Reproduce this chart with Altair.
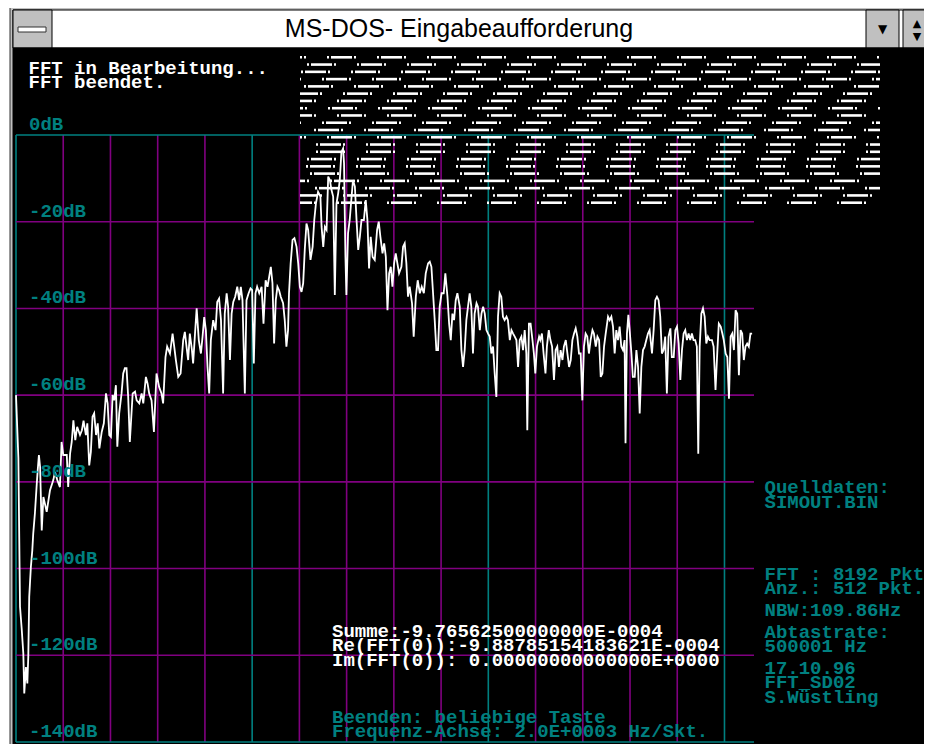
import altair as alt
import pandas as pd

# ---------------- data ----------------
freq_khz = [
    0.00, 0.10, 0.17, 0.24, 0.31, 0.35, 0.42, 0.48, 0.52, 0.56, 0.63, 0.69, 0.73, 0.80, 0.88, 0.92, 0.97,
    1.02, 1.09, 1.16, 1.30, 1.44, 1.58, 1.65, 1.75, 1.86, 1.93, 2.00, 2.15, 2.21, 2.29, 2.36, 2.43, 2.51,
    2.59, 2.71, 2.79, 2.86, 2.96, 3.02, 3.10, 3.17, 3.24, 3.31, 3.39, 3.46, 3.53, 3.63, 3.72, 3.81, 3.88,
    3.95, 4.02, 4.09, 4.16, 4.23, 4.29, 4.37, 4.47,
    4.54, 4.61, 4.68, 4.75, 4.82, 4.94, 5.04, 5.11, 5.22, 5.32, 5.39, 5.50, 5.57, 5.64, 5.74, 5.84, 5.95,
    6.06, 6.16, 6.23, 6.33, 6.40, 6.52, 6.63, 6.70, 6.77, 6.87, 6.97, 7.08, 7.15, 7.22, 7.29, 7.36, 7.45,
    7.50, 7.58, 7.65, 7.74, 7.83, 7.90, 7.97, 8.04, 8.11, 8.18, 8.25, 8.35, 8.45, 8.52, 8.60, 8.68, 8.77,
    8.84, 8.92, 8.98, 9.06, 9.13, 9.20, 9.28, 9.37, 9.45, 9.52, 9.59, 9.69, 9.76, 9.85, 9.93, 10.00, 10.07,
    10.14, 10.21, 10.30, 10.40, 10.48, 10.57, 10.65, 10.72, 10.79, 10.86, 10.93, 11.00, 11.07, 11.14, 11.21,
    11.31, 11.38, 11.45, 11.52, 11.56, 11.63, 11.71, 11.79, 11.88, 11.95, 12.02, 12.09, 12.16, 12.23, 12.30,
    12.37, 12.47, 12.56, 12.63, 12.70,
    12.79, 12.89, 12.94, 13.01, 13.08, 13.15, 13.22, 13.29, 13.36, 13.43, 13.50, 13.57, 13.64, 13.71, 13.78,
    13.85, 13.89, 13.95, 13.99, 14.06, 14.13, 14.21, 14.27, 14.35, 14.42, 14.49, 14.56, 14.63, 14.73, 14.81,
    14.88, 14.95, 15.02, 15.10, 15.19, 15.29, 15.36, 15.43, 15.52, 15.59, 15.66, 15.73, 15.80, 15.87, 15.94,
    16.01, 16.08, 16.15, 16.22, 16.32, 16.39, 16.46, 16.53, 16.60, 16.67, 16.77, 16.84, 16.93, 17.01, 17.10,
    17.18, 17.27, 17.35, 17.45, 17.52, 17.59, 17.66, 17.73, 17.80, 17.87, 17.94, 18.02, 18.11, 18.18, 18.27,
    18.34, 18.41, 18.48, 18.55, 18.62, 18.69, 18.79, 18.86, 18.93, 19.00, 19.07, 19.14, 19.21, 19.28, 19.35,
    19.42, 19.50, 19.56, 19.64, 19.71, 19.78, 19.85, 19.92, 19.99, 20.06, 20.13, 20.20, 20.27, 20.34, 20.41,
    20.48, 20.55, 20.62, 20.69, 20.77, 20.83, 20.91, 20.98, 21.05, 21.12, 21.19, 21.26, 21.33, 21.40, 21.47,
    21.54, 21.61, 21.65, 21.72, 21.79, 21.87, 21.93, 21.99, 22.06, 22.15, 22.20, 22.27, 22.34, 22.42, 22.48,
    22.56, 22.63, 22.70, 22.78, 22.85, 22.92, 22.99, 23.06, 23.14, 23.20, 23.28, 23.35, 23.42, 23.49, 23.56,
    23.63, 23.70, 23.77, 23.84, 23.91, 23.98, 24.05, 24.12, 24.19, 24.26, 24.33, 24.41, 24.47, 24.55, 24.62,
    24.69, 24.76, 24.83, 24.90, 24.97, 25.07,
    25.14, 25.21, 25.28, 25.35, 25.42, 25.49, 25.56, 25.63, 25.70, 25.77, 25.81, 25.87, 25.93, 25.99, 26.06,
    26.12, 26.20, 26.27, 26.34, 26.41, 26.48, 26.55, 26.62, 26.69, 26.76, 26.83, 26.93, 27.00, 27.07, 27.14,
    27.21, 27.28, 27.35, 27.42, 27.49, 27.56, 27.63, 27.71, 27.77, 27.85, 27.92, 27.99, 28.06, 28.13, 28.20,
    28.27, 28.34, 28.41, 28.48, 28.55, 28.62, 28.69, 28.76, 28.83, 28.89, 28.95, 29.02, 29.09, 29.16, 29.23,
    29.30, 29.37, 29.47, 29.54, 29.62, 29.70, 29.76, 29.84, 29.91, 29.97, 30.05, 30.12, 30.19, 30.26, 30.33,
    30.40, 30.47, 30.54, 30.61, 30.68, 30.75, 30.82, 30.89, 30.96, 31.03, 31.10, 31.17,
]
level_db = [
    -60.0, -74.5, -108.8, -113.8, -119.6, -128.8, -122.7, -126.5, -120.4, -106.5, -99.6, -95.8, -91.9, -87.3,
    -80.4, -77.3, -73.8, -76.5, -91.2, -83.5, -86.9, -81.9, -79.6, -77.7, -79.6, -81.2, -70.8, -73.8, -73.8,
    -81.2, -73.5, -70.8, -65.8, -70.4, -67.3, -69.2, -68.1, -65.9, -69.2, -66.5, -76.2, -73.1, -65.0, -64.2,
    -69.2, -66.5, -72.3, -68.5, -66.5, -59.6, -61.9, -69.2, -69.6, -60.0, -61.2, -57.7, -71.9, -64.2, -59.6,
    -55.0, -53.8, -53.8, -60.4, -70.8, -59.6, -59.2, -61.2, -61.9, -59.6, -61.9, -55.8, -57.3, -59.6, -61.2,
    -68.5, -55.0, -58.1, -59.6, -61.9, -51.2, -48.8, -50.4, -45.8, -48.8, -51.9, -55.8, -55.0, -47.3, -45.4,
    -48.8, -51.9, -45.8, -49.6, -52.7, -45.8, -40.0, -47.3, -50.4, -46.5, -42.0, -45.0, -53.5, -59.6, -47.3,
    -42.7, -45.0, -38.5, -37.7, -42.7, -59.6, -41.2, -36.5, -39.5, -51.9, -41.2, -38.5, -37.3, -35.0, -38.1,
    -35.0, -38.1, -59.6, -38.1, -36.5, -35.4, -35.8, -52.7, -36.5, -35.0, -36.5, -35.0, -43.5, -33.5, -35.0,
    -32.7, -30.4, -34.2, -48.1, -38.1, -35.0, -35.8, -37.3, -38.8, -42.7, -48.8, -45.0, -36.5, -29.6, -24.2,
    -23.8, -25.8, -29.6, -35.0, -36.2, -34.2, -26.2, -20.4, -21.9, -28.8, -25.8, -19.6, -15.8,
    -13.1, -14.2, -21.2, -25.8, -21.2, -21.9, -9.6, -10.4, -12.7, -14.2, -36.9, -15.8, -13.5, -10.4, -3.9,
    -3.1, -6.5, -28.1, -36.9, -22.7, -19.6, -14.2, -10.4, -11.9, -19.6, -26.5, -23.5, -19.6, -19.6, -15.0,
    -19.6, -30.8, -23.5, -28.1, -28.8, -21.9, -20.0, -23.5, -27.3, -25.0, -28.1, -40.4, -31.9, -30.4, -35.0,
    -29.6, -27.3, -29.6, -31.9, -30.4, -25.8, -25.0, -29.6, -37.3, -35.0, -38.8, -46.5, -37.3, -33.5, -36.5,
    -35.0, -36.5, -31.9, -29.6, -29.2, -30.4, -36.5, -42.7, -49.6, -49.6, -39.6, -36.5, -36.5, -31.9, -37.3,
    -43.5, -47.3, -41.2, -42.7, -38.1, -36.5, -39.6, -49.6, -53.5, -49.6, -42.7, -39.6, -36.5, -39.6, -50.4,
    -41.2, -38.8, -39.6, -45.0, -41.2, -39.6, -41.2, -45.0, -45.8, -46.5, -50.4, -48.8, -55.0, -60.4, -41.9,
    -36.5, -37.3, -41.9, -42.7, -41.9, -42.7, -47.3, -45.0, -45.8, -46.5, -47.3, -53.5, -47.3, -46.5, -49.6,
    -45.0, -50.4, -68.1, -43.5, -43.5, -47.3, -50.4, -55.0, -48.8, -46.5, -47.3, -45.8, -50.4, -55.0, -48.8,
    -45.0, -47.3, -48.8, -56.5, -49.6, -48.8, -53.5, -49.6, -51.9, -48.8, -47.3, -50.4, -53.5, -51.9, -47.3,
    -45.8, -44.6, -46.5, -50.4, -50.4, -61.2, -48.8, -45.8, -46.5, -50.4, -47.3, -45.0, -45.8, -48.8, -46.5,
    -47.3, -55.8, -55.0, -48.8, -45.8, -41.9,
    -42.7, -41.9, -44.2, -50.4, -45.0, -47.3, -44.2, -48.8, -49.6, -47.3, -71.1, -45.8, -41.5, -45.4, -50.4,
    -55.8, -55.8, -49.6, -53.5, -64.2, -53.5, -49.6, -48.8, -47.3, -45.8, -45.0, -50.4, -45.0, -38.1, -37.3,
    -38.1, -41.9, -50.4, -49.6, -46.5, -59.6, -46.5, -44.6, -51.2, -51.2, -45.0, -44.2, -48.1, -56.5, -49.6,
    -45.8, -45.0, -47.3, -45.8, -47.3, -45.8, -47.3, -47.3, -48.8, -73.5, -48.8, -41.2, -40.0, -41.9, -48.1,
    -46.5, -47.3, -47.3, -48.8, -58.8, -49.6, -43.5, -44.2, -45.8, -47.3, -50.4, -51.2, -60.8, -46.5, -45.8,
    -49.6, -40.4, -41.2, -55.4, -45.0, -45.8, -51.9, -48.8, -48.1, -48.8, -45.8, -45.8,
]

grid_khz = list(range(0, 31, 2))          # 2 kHz per division
grid_db = list(range(0, -141, -20))       # 20 dB per division

window_title = "MS-DOS- Eingabeaufforderung"
status_lines = ["FFT in Bearbeitung...", "FFT beendet."]
result_lines = ["Summe:-9.76562500000000E-0004",
                "Re(FFT(0)):-9.88785154183621E-0004",
                "Im(FFT(0)): 0.00000000000000E+0000"]
footer_lines = ["Beenden: beliebige Taste",
                "Frequenz-Achse:  2.0E+0003 Hz/Skt."]
panel_lines = ["Quelldaten:", "SIMOUT.BIN", "FFT : 8192 Pkt.", "Anz.:  512 Pkt.",
               "NBW:109.86Hz", "Abtastrate:", "500001 Hz", "17.10.96", "FFT_SD02", "S.Wüstling"]
# garbage dash rows at the top right: screen x of the first dash group in each row
garble_phase = [327, 307, 351, 322, 304, 343, 337, 328, 337, 322, 314,
                327, 316, 316, 307, 306, 310, 330, 315, 343, 337]

# ---------------- layout ----------------
X_MAX = 31.25
W, H = 738, 607
OX, OY = 16, 135                 # page position of the plot's top-left corner
TOTAL_W, TOTAL_H = 916, 736
PAD = {"left": OX - 8, "top": OY - 8,
       "right": TOTAL_W - (OX - 8) - W, "bottom": TOTAL_H - (OY - 8) - H}
KX = W / X_MAX
KY = H / 140.0

TEAL = "#008080"
PURPLE = "#800080"
GRAY = "#c0c0c0"
MONO = "Liberation Mono"
FS = 19
WEIGHT = "bold"

xs = alt.Scale(domain=[0, X_MAX], nice=False, zero=False)
ys = alt.Scale(domain=[-140, 0], nice=False, zero=False)


def px(x):
    return x - OX


def py(y):
    return y - OY


def to_khz(x):
    return (x - OX) / KX


def to_db(y):
    return -(y - OY) / KY


one = pd.DataFrame({"k": [0]})


def txt(s, x, y, color, size=FS, font=MONO, align="left", weight=WEIGHT):
    return alt.Chart(one).mark_text(
        text=s, font=font, fontSize=size, color=color, align=align,
        baseline="alphabetic", fontWeight=weight).encode(
        x=alt.value(px(x)), y=alt.value(py(y)))


def rect_layer(items, stroke_w=1.0):
    df = pd.DataFrame([{"x0": to_khz(a), "x1": to_khz(c), "y0": to_db(b), "y1": to_db(d),
                        "fill": f, "stroke": s, "ord": i}
                       for i, (a, b, c, d, f, s) in enumerate(items)])
    return alt.Chart(df).mark_rect(strokeWidth=stroke_w).encode(
        x=alt.X("x0:Q", scale=xs, axis=None), x2="x1:Q",
        y=alt.Y("y0:Q", scale=ys, axis=None), y2="y1:Q",
        fill=alt.Fill("fill:N", scale=None),
        stroke=alt.Stroke("stroke:N", scale=None),
        order="ord:Q")


layers = []
# window chrome (screen boxes)
layers.append(rect_layer([
    (10, 4, 940, 760, GRAY, "#303030"),
    (13, 10, 940, 48, "white", "black"),
    (13, 10, 52, 48, GRAY, "black"),
    (18, 27, 46, 32, "white", "#303030"),
    (866, 10, 899, 48, GRAY, "black"),
    (903, 10, 940, 48, GRAY, "black"),
    (13, 48, 940, 760, "black", "black"),
]))
layers.append(txt("▼", 882.5, 33, "black", 12, "DejaVu Sans", "center", "normal"))
layers.append(txt("▲", 917, 27, "black", 11, "DejaVu Sans", "center", "normal"))
layers.append(txt("▼", 917, 40, "black", 11, "DejaVu Sans", "center", "normal"))
layers.append(txt(window_title, 459, 37, "black", 25, "Liberation Sans", "center", "normal"))

# grid
vdf = pd.DataFrame({"khz": grid_khz, "top": 0, "bot": -140,
                    "col": [TEAL if v % 10 == 0 else PURPLE for v in grid_khz]})
hdf = pd.DataFrame({"db": grid_db, "left": 0.0, "right": X_MAX,
                    "col": [TEAL if v in (0, -140) else PURPLE for v in grid_db]})
layers.append(alt.Chart(vdf).mark_rule(strokeWidth=1.6).encode(
    x=alt.X("khz:Q", scale=xs, axis=None),
    y=alt.Y("top:Q", scale=ys, axis=None), y2="bot:Q",
    color=alt.Color("col:N", scale=None)))
layers.append(alt.Chart(hdf).mark_rule(strokeWidth=1.6).encode(
    y=alt.Y("db:Q", scale=ys, axis=None),
    x=alt.X("left:Q", scale=xs, axis=None), x2="right:Q",
    color=alt.Color("col:N", scale=None)))

# garbage dashes
rows = []
pieces = [(0, 2), (4, 25), (27, 29)]
for r, ph in enumerate(garble_phase):
    yc = 57.3 + 7.27 * r
    g = ph
    while g > 270:
        g -= 50
    while g < 880:
        for a, b in pieces:
            x0, x1 = g + a, g + b
            if x1 <= 300 or x0 >= 880:
                continue
            rows.append({"x0": to_khz(max(x0, 300)), "x1": to_khz(min(x1, 880)),
                         "y0": to_db(yc - 1.3), "y1": to_db(yc + 1.3)})
        g += 50
gdf = pd.DataFrame(rows)
layers.append(alt.Chart(gdf).mark_rect(color="white").encode(
    x=alt.X("x0:Q", scale=xs, axis=None), x2="x1:Q",
    y=alt.Y("y0:Q", scale=ys, axis=None), y2="y1:Q"))

# spectrum
cdf = pd.DataFrame({"khz": freq_khz, "db": level_db})
layers.append(alt.Chart(cdf).mark_line(color="white", strokeWidth=1.8).encode(
    x=alt.X("khz:Q", scale=xs, axis=None),
    y=alt.Y("db:Q", scale=ys, axis=None)))

# dB labels of the level axis (inside the plot, above each grid line)
ldf = pd.DataFrame({"db": grid_db, "label": [f"{v}dB" for v in grid_db]})
layers.append(alt.Chart(ldf).mark_text(
    font=MONO, fontSize=FS, fontWeight=WEIGHT, color=TEAL, align="left",
    baseline="alphabetic", dy=-5).encode(
    x=alt.value(px(29)),
    y=alt.Y("db:Q", scale=ys, axis=None),
    text="label:N"))

# texts
for i, s in enumerate(status_lines):
    layers.append(txt(s, 28.5, 74 + 14 * i, "white"))
for i, s in enumerate(result_lines):
    layers.append(txt(s, 332, 636.5 + 14.5 * i, "white"))
for i, s in enumerate(footer_lines):
    layers.append(txt(s, 332, 723 + 14.3 * i, TEAL))
panel_y = [493.3, 507.7, 580, 594.3, 616, 637.7, 652, 673.7, 688.3, 702.7]
for s, y in zip(panel_lines, panel_y):
    layers.append(txt(s, 764.5, y, TEAL))

chart = alt.layer(*layers).properties(
    width=W, height=H, padding=PAD, autosize=alt.AutoSizeParams(type="none"),
    background="white",
).configure_view(stroke=None)

chart.save("out.html", embed_options={"renderer": "svg", "actions": False})
